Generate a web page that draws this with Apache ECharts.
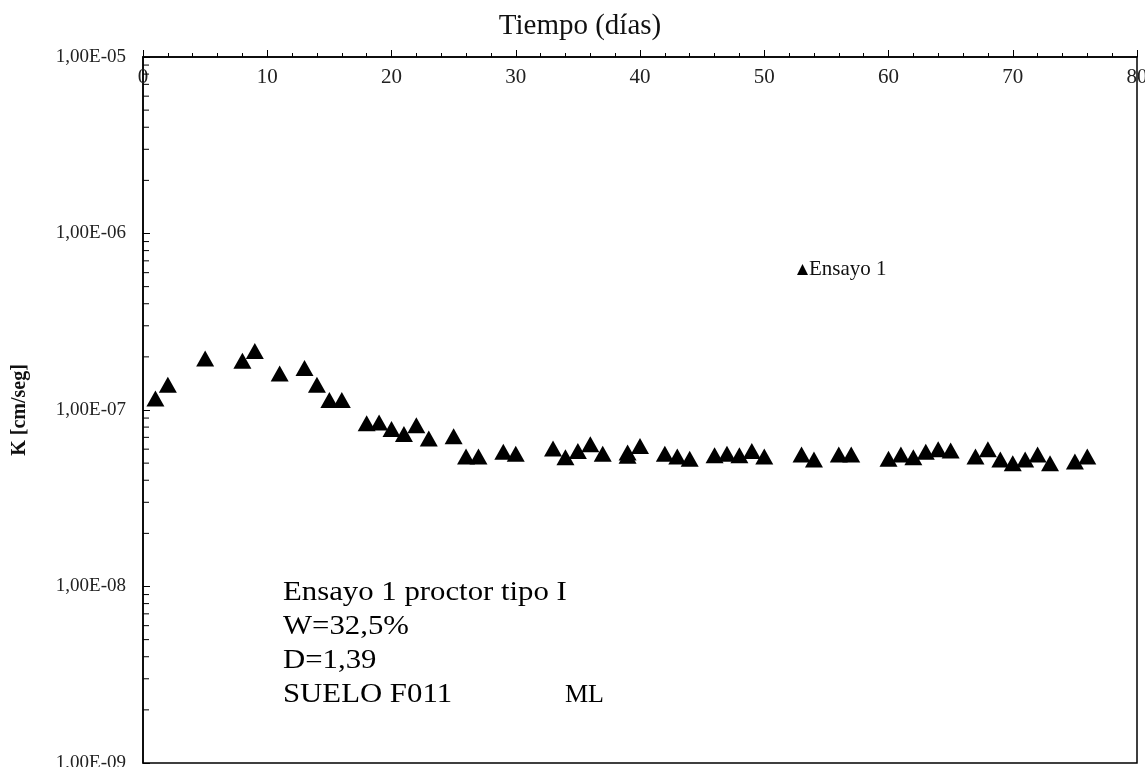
<!DOCTYPE html>
<html>
<head>
<meta charset="utf-8">
<script src="https://cdn.jsdelivr.net/npm/echarts@6/dist/echarts.min.js"></script>
<style>
  html, body { margin: 0; padding: 0; background: #fff; }
  #main { width: 1145px; height: 767px; }
</style>
</head>
<body>
<div id="main"></div>
<script>
// tiempo en dias
var dias = [1, 2, 5, 8, 9, 11, 13, 14, 15, 16, 18, 19, 20, 21, 22, 23, 25, 26, 27, 29, 30,
            33, 34, 35, 36, 37, 39, 39, 40, 42, 43, 44, 46, 47, 48, 49, 50,
            53, 54, 56, 57, 60, 61, 62, 63, 64, 65, 67, 68, 69, 70, 71, 72, 73, 75, 76];
// K [cm/seg]
var kValores = [1.16e-7, 1.39e-7, 1.96e-7, 1.9e-7, 2.16e-7, 1.61e-7, 1.73e-7, 1.39e-7, 1.14e-7, 1.14e-7,
                8.4e-8, 8.5e-8, 7.8e-8, 7.3e-8, 8.2e-8, 6.9e-8, 7.1e-8, 5.45e-8, 5.45e-8, 5.8e-8, 5.65e-8,
                6.05e-8, 5.4e-8, 5.85e-8, 6.4e-8, 5.65e-8, 5.75e-8, 5.5e-8, 6.25e-8, 5.65e-8, 5.45e-8, 5.3e-8,
                5.55e-8, 5.65e-8, 5.55e-8, 5.85e-8, 5.45e-8,
                5.6e-8, 5.25e-8, 5.6e-8, 5.6e-8, 5.3e-8, 5.6e-8, 5.4e-8, 5.8e-8, 6.0e-8, 5.9e-8,
                5.45e-8, 6.0e-8, 5.25e-8, 5.0e-8, 5.25e-8, 5.6e-8, 5.0e-8, 5.1e-8, 5.45e-8];

// marcas menores del eje logaritmico (2..9 por decada)
var yMenores = [];
[-9, -8, -7, -6].forEach(function (d) {
    for (var m = 2; m <= 9; m++) yMenores.push(m * Math.pow(10, d));
});

var notas = ['Ensayo 1 proctor tipo I', 'W=32,5%', 'D=1,39', 'SUELO F011'];

var serif = '"Liberation Serif", "DejaVu Serif", serif';

function formatoE(v) {
    var e = Math.round(Math.log10(v));
    var m = v / Math.pow(10, e);
    var s = Math.abs(e) < 10 ? '0' + Math.abs(e) : '' + Math.abs(e);
    return m.toFixed(2).replace('.', ',') + 'E' + (e < 0 ? '-' : '+') + s;
}

var textos = [{
    type: 'text', x: 580, y: 26,
    style: { text: 'Tiempo (días)', font: '29px ' + serif, fill: '#111',
             textAlign: 'center', textVerticalAlign: 'middle' }
}];
notas.forEach(function (t, i) {
    textos.push({
        type: 'text', x: 283, y: 593 + i * 34, scaleX: 1.14,
        style: { text: t, font: '27px ' + serif, fill: '#000', textVerticalAlign: 'middle' }
    });
});
textos.push({
    type: 'text', x: 565, y: 695,
    style: { text: 'ML', font: '26px ' + serif, fill: '#000', textVerticalAlign: 'middle' }
});

var myChart = echarts.init(document.getElementById('main'));
myChart.setOption({
    animation: false,
    backgroundColor: '#fff',
    grid: {
        left: 143, top: 57, right: 8, bottom: 4,
        outerBoundsMode: 'none',
        containLabel: false,
        show: true, borderColor: '#000', borderWidth: 1.5
    },
    legend: {
        data: ['Ensayo 1'],
        left: 792, top: 254,
        icon: 'triangle',
        itemWidth: 11, itemHeight: 11, itemGap: 2,
        textStyle: { fontFamily: serif, fontSize: 21, color: '#111', padding: [0, 0, 0, -4] }
    },
    xAxis: {
        type: 'value',
        position: 'top',
        min: 0, max: 80, interval: 10,
        axisLine: { lineStyle: { color: '#000', width: 1.5 } },
        axisTick: { inside: false, length: 7, lineStyle: { color: '#000' } },
        minorTick: { show: true, splitNumber: 5, length: 4, lineStyle: { color: '#000' } },
        axisLabel: { inside: true, margin: 10, fontFamily: serif, fontSize: 21, color: '#222',
                     showMinLabel: true, showMaxLabel: true },
        splitLine: { show: false }
    },
    yAxis: {
        type: 'log',
        logBase: 10,
        min: 1e-9, max: 1e-5,
        name: 'K [cm/seg]',
        nameLocation: 'middle',
        nameRotate: 90,
        nameGap: 113,
        nameTextStyle: { fontFamily: serif, fontSize: 20, fontWeight: 'bold', color: '#111' },
        axisLine: { show: true, lineStyle: { color: '#000', width: 1.5 } },
        axisTick: { show: true, inside: true, length: 7, lineStyle: { color: '#000' } },
        axisLabel: { margin: 17, fontFamily: serif, fontSize: 19, color: '#222', formatter: formatoE },
        splitLine: { show: false }
    },
    graphic: textos,
    series: [
        {
            name: 'Ensayo 1',
            type: 'scatter',
            symbol: 'triangle',
            symbolSize: [18, 16],
            itemStyle: { color: '#000', opacity: 1 },
            data: dias.map(function (d, i) { return [d, kValores[i]]; }),
            z: 5
        },
        {
            name: 'menores',
            type: 'custom',
            silent: true,
            data: yMenores.map(function (v) { return [0, v]; }),
            renderItem: function (params, api) {
                var p = api.coord([0, api.value(1)]);
                return {
                    type: 'line',
                    shape: { x1: p[0], y1: p[1], x2: p[0] + 6, y2: p[1] },
                    style: { stroke: '#000', lineWidth: 1 }
                };
            },
            z: 4
        }
    ]
});
</script>
</body>
</html>
